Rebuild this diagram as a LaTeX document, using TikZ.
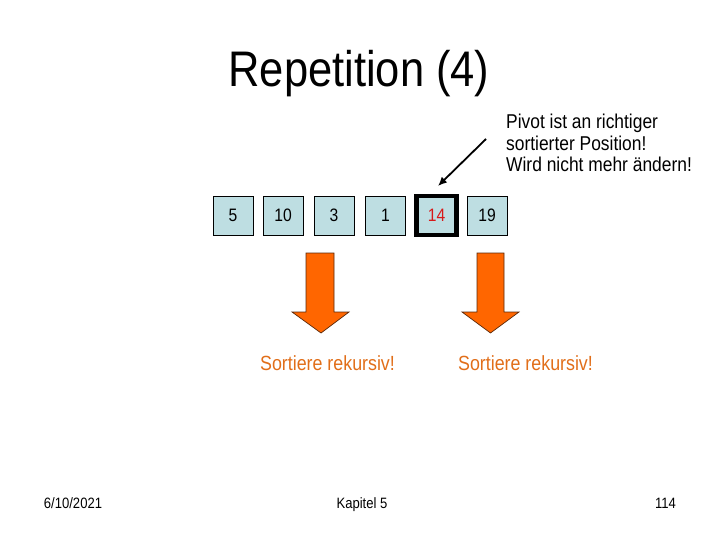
\documentclass[tikz,border=0pt]{standalone}
\usepackage{fontspec}
\setmainfont[FakeStretch=0.87]{Liberation Sans}
\usetikzlibrary{arrows.meta}
\definecolor{boxfill}{RGB}{190,222,226}
\definecolor{arrorange}{RGB}{255,102,0}
\definecolor{arredge}{RGB}{90,40,10}
\definecolor{txtorange}{RGB}{225,110,25}
\definecolor{pivred}{RGB}{215,25,25}
\tikzset{
  cell/.style={draw=black, line width=0.8pt, fill=boxfill, minimum width=40pt, minimum height=39pt, inner sep=0pt, font=\fontsize{18}{20}\selectfont},
  pivcell/.style={cell, line width=4.5pt, minimum width=40pt, minimum height=39pt, text=pivred},
  downarrow/.style={fill=arrorange, draw=arredge, line width=0.7pt, line join=miter},
  sorttext/.style={font=\fontsize{20.5}{24}\selectfont, text=txtorange, anchor=base, inner sep=0pt},
  foot/.style={font=\fontsize{15}{18}\selectfont, anchor=base, inner sep=0pt},
}
\begin{document}
\begin{tikzpicture}[x=1pt,y=-1pt]
\useasboundingbox (0,0) rectangle (720,540);
% title
\node[font=\fontsize{50}{56}\selectfont, anchor=base, inner sep=0pt] (title) at (359,87) {Repetition (4)};
% cells
\node[cell] (b5) at (233,215.5) {5};
\node[cell] (b10) at (283,215.5) {10};
\node[cell] (b3) at (334,215.5) {3};
\node[cell] (b1) at (385.5,215.5) {1};
\node[pivcell] (b14) at (436.5,215.5) {14};
\node[cell] (b19) at (487,215.5) {19};
% pivot annotation
\node[font=\fontsize{20}{21.6}\selectfont, align=left, anchor=north west, inner sep=0pt] (pivtext) at (506,114) {Pivot ist an richtiger\\sortierter Position!\\Wird nicht mehr ändern!};
\coordinate (pstart) at (486,139);
\coordinate (pend) at (438,186);
\draw[line width=1.8pt, -{Latex[length=9pt,width=8pt]}] (pstart) -- (pend);
% orange down arrows
\draw[downarrow] (306,253) -- (334,253) -- (334,312) -- (349,312) -- (321,333) -- (292,312) -- (306,312) -- cycle;
\draw[downarrow] (477,253) -- (504,253) -- (504,312) -- (519,312) -- (490.5,333) -- (462,312) -- (477,312) -- cycle;
% labels
\node[sorttext] (s1) at (327.5,370) {Sortiere rekursiv!};
\node[sorttext] (s2) at (525.5,370) {Sortiere rekursiv!};
% footer
\node[foot] (date) at (73,508) {6/10/2021};
\node[foot] (chap) at (362,508) {Kapitel 5};
\node[foot] (page) at (665.5,508) {114};
\end{tikzpicture}
\end{document}
